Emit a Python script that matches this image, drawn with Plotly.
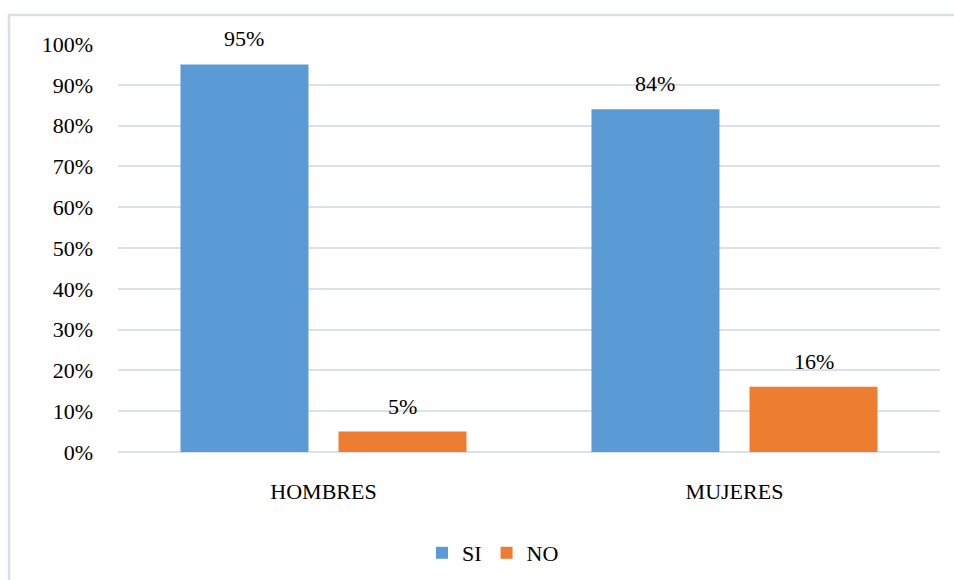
import plotly.graph_objects as go

categories = ["HOMBRES", "MUJERES"]
si_values = [0.95, 0.84]
no_values = [0.05, 0.16]
series_names = ["SI", "NO"]
y_ticks = [0, 0.1, 0.2, 0.3, 0.4, 0.5, 0.6, 0.7, 0.8, 0.9, 1.0]

W, H = 954, 580
ML, MR, MT, MB = 118, 14, 44, 128
FONT = "Times New Roman, Tinos, Liberation Serif, DejaVu Serif, serif"
BLUE = "#5B9BD5"
ORANGE = "#ED7D31"
GRID = "#DCE1E9"

fig = go.Figure()
fig.add_trace(go.Bar(name=series_names[0], x=categories, y=si_values,
                     marker=dict(color=BLUE, line=dict(width=0))))
fig.add_trace(go.Bar(name=series_names[1], x=categories, y=no_values,
                     marker=dict(color=ORANGE, line=dict(width=0))))

pw = W - ML - MR
ph = H - MT - MB
cat_w = pw / len(categories)
bargap = 0.231
bargroupgap = 0.19
slot = cat_w * (1 - bargap) / 2

annotations = []
for vals, sign in ((si_values, -1), (no_values, 1)):
    for c, v in zip(categories, vals):
        annotations.append(dict(
            x=c, y=v, xref="x", yref="y", text=f"{round(v*100)}%",
            showarrow=False, yanchor="bottom", xanchor="center",
            xshift=sign * slot / 2, yshift=11,
            font=dict(family=FONT, size=22, color="black")))

# outer chart frame (top and left edges visible)
left_px, top_px = 9, 15
shapes = [dict(type="rect", xref="paper", yref="paper",
               x0=(left_px - ML) / pw, x1=(W + 10 - ML) / pw,
               y0=-(H + 10 - (H - MB)) / ph, y1=(H - MB - top_px) / ph,
               line=dict(color="#D9DEE8", width=2.5), fillcolor="rgba(0,0,0,0)",
               layer="below")]

fig.update_layout(
    width=W, height=H,
    margin=dict(l=ML, r=MR, t=MT, b=MB, autoexpand=False),
    paper_bgcolor="white", plot_bgcolor="white",
    barmode="group", bargap=bargap, bargroupgap=bargroupgap,
    font=dict(family=FONT, size=22, color="black"),
    showlegend=True,
    legend=dict(orientation="h", x=(493 - ML) / pw, xanchor="center",
                y=-(553 - (H - MB)) / ph, yanchor="middle",
                font=dict(family=FONT, size=22, color="black"),
                itemsizing="constant", itemwidth=30, tracegroupgap=0),
    annotations=annotations,
    shapes=shapes,
    xaxis=dict(showgrid=False, showline=False, zeroline=False, automargin=False,
               ticks="", tickfont=dict(family=FONT, size=22, color="black"),
               ticklabelstandoff=24),
    yaxis=dict(range=[0, 1.0], tickvals=y_ticks, tickformat=".0%", automargin=False,
               showgrid=True, gridcolor=GRID, gridwidth=2,
               zeroline=True, zerolinecolor=GRID, zerolinewidth=2,
               showline=False, ticks="",
               tickfont=dict(family=FONT, size=22, color="black"),
               ticklabelstandoff=24),
)

fig.write_html("out.html")
